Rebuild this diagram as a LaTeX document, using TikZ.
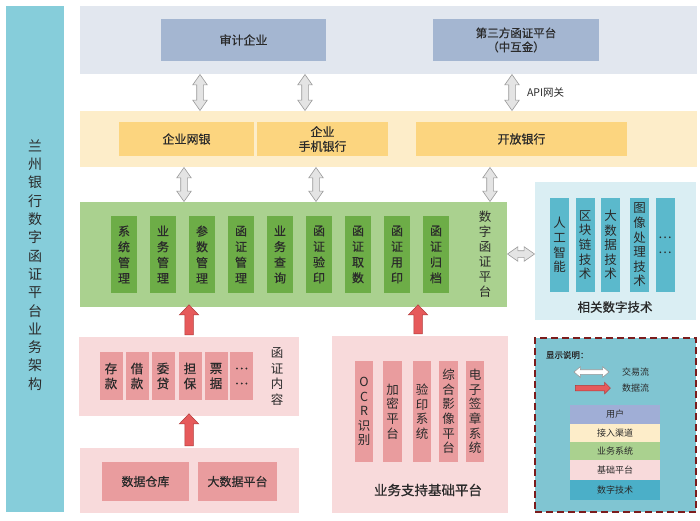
\documentclass[tikz,border=0pt]{standalone}
\usepackage{fontspec}
\setmainfont{Noto Sans CJK SC}
\newfontfamily\semibold{Noto Sans CJK SC}[FakeBold=0.6]
\usetikzlibrary{shapes.arrows,calc}
\definecolor{leftbar}{HTML}{86CDDA}
\definecolor{userbg}{HTML}{E2E7EF}
\definecolor{userbox}{HTML}{A4B6D1}
\definecolor{chanbg}{HTML}{FDEDC9}
\definecolor{chanbox}{HTML}{FCD57F}
\definecolor{bizbg}{HTML}{AAD18F}
\definecolor{bizbox}{HTML}{6DAD47}
\definecolor{techbg}{HTML}{DAEEF3}
\definecolor{techbox}{HTML}{5BB9CC}
\definecolor{basebg}{HTML}{F8DADB}
\definecolor{basebox}{HTML}{E99C9E}
\definecolor{legbg}{HTML}{80C5D2}
\definecolor{legborder}{HTML}{7B1C1C}
\definecolor{leguser}{HTML}{A0AED6}
\definecolor{legtech}{HTML}{4BAFC8}
\definecolor{txt}{HTML}{2A2A2A}
\definecolor{redarrow}{HTML}{E65A5B}
\definecolor{redborder}{HTML}{B03A3A}
\definecolor{grayfill}{HTML}{E4E4E4}
\definecolor{grayborder}{HTML}{9A9A9A}
\begin{document}
\begin{tikzpicture}[x=1pt,y=-1pt,
  box/.style={rectangle,inner sep=0pt,outer sep=0pt,draw=none,text=txt,align=center},
  bandtext/.style={box,font=\semibold\fontsize{12}{14.5}\selectfont},
  vbiz/.style={box,fill=bizbox,minimum width=26pt,minimum height=77pt,font=\semibold\fontsize{12}{15.7}\selectfont},
  vtech/.style={box,fill=techbox,minimum width=19pt,minimum height=94pt,font=\fontsize{12.5}{14.6}\selectfont},
  vcont/.style={box,fill=basebox,minimum width=23pt,minimum height=48pt,font=\semibold\fontsize{12.5}{15}\selectfont},
  vsup/.style={box,fill=basebox,minimum width=18.5pt,minimum height=101pt,font=\fontsize{12.5}{14.6}\selectfont},
  lbl/.style={box,font=\fontsize{12.5}{15.7}\selectfont},
  dblarrow/.style={shape=double arrow,draw=grayborder,fill=grayfill,line width=0.6pt,inner sep=3pt,
     double arrow head extend=4pt,double arrow tip angle=70,minimum width=14pt,sloped,allow upside down},
  redarr/.style={shape=single arrow,draw=redborder,fill=redarrow,line width=0.5pt,inner sep=4pt,
     single arrow head extend=5.5pt,single arrow tip angle=88,minimum width=19pt,sloped,allow upside down},
  legrow/.style={box,minimum width=90pt,font=\fontsize{9}{11}\selectfont}]
\useasboundingbox (0,0) rectangle (700,520);
% left title bar
\node[box,fill=leftbar,minimum width=58pt,minimum height=506pt] (title) at (35,259) {};
\node[box,font=\fontsize{14}{18.3}\selectfont] (titletext) at (35,265)
 {兰\\州\\银\\行\\数\\字\\函\\证\\平\\台\\业\\务\\架\\构};
% user layer
\node[box,fill=userbg,minimum width=617pt,minimum height=68pt] (userband) at (388.5,40) {};
\node[bandtext,fill=userbox,minimum width=165pt,minimum height=42pt] (audit) at (243.5,40) {审计企业};
\node[bandtext,fill=userbox,minimum width=166pt,minimum height=42pt,font=\semibold\fontsize{11.5}{14}\selectfont] (third) at (516,40) {第三方函证平台\\（中互金）};
% channel layer
\node[box,fill=chanbg,minimum width=617pt,minimum height=56pt] (chanband) at (388.5,139) {};
\node[bandtext,fill=chanbox,minimum width=135pt,minimum height=34pt] (ebank) at (186.5,139) {企业网银};
\node[bandtext,fill=chanbox,minimum width=131pt,minimum height=34pt] (mbank) at (322.5,139) {企业\\手机银行};
\node[bandtext,fill=chanbox,minimum width=211pt,minimum height=34pt] (obank) at (521.5,139) {开放银行};
% business layer
\node[box,fill=bizbg,minimum width=427pt,minimum height=105pt] (bizband) at (293.5,254.5) {};
\node[vbiz] (b1) at (124,254.5) {系\\统\\管\\理};
\node[vbiz] (b2) at (163,254.5) {业\\务\\管\\理};
\node[vbiz] (b3) at (202,254.5) {参\\数\\管\\理};
\node[vbiz] (b4) at (241,254.5) {函\\证\\管\\理};
\node[vbiz] (b5) at (280,254.5) {业\\务\\查\\询};
\node[vbiz] (b6) at (319,254.5) {函\\证\\验\\印};
\node[vbiz] (b7) at (358,254.5) {函\\证\\取\\数};
\node[vbiz] (b8) at (397,254.5) {函\\证\\用\\印};
\node[vbiz] (b9) at (436,254.5) {函\\证\\归\\档};
\node[lbl,font=\fontsize{12.5}{15}\selectfont] (bizlabel) at (485,254) {数\\字\\函\\证\\平\\台};
% tech layer
\node[box,fill=techbg,minimum width=161pt,minimum height=138pt] (techband) at (615.5,251) {};
\node[vtech] (t1) at (559.5,245) {人\\工\\智\\能};
\node[vtech] (t2) at (585,245) {区\\块\\链\\技\\术};
\node[vtech] (t3) at (610.5,245) {大\\数\\据\\技\\术};
\node[vtech] (t4) at (639.5,245) {图\\像\\处\\理\\技\\术};
\node[vtech] (t5) at (665,245) {…\\…};
\node[lbl,font=\semibold\fontsize{12.5}{15}\selectfont] (techlabel) at (615,307) {相关数字技术};
% content layer
\node[box,fill=basebg,minimum width=220pt,minimum height=79pt] (contband) at (189,376.5) {};
\node[vcont] (c1) at (111,376) {存\\款};
\node[vcont] (c2) at (137,376) {借\\款};
\node[vcont] (c3) at (163,376) {委\\贷};
\node[vcont] (c4) at (190,376) {担\\保};
\node[vcont] (c5) at (216,376) {票\\据};
\node[vcont] (c6) at (241.5,376) {…\\…};
\node[lbl] (contlabel) at (277,376.5) {函\\证\\内\\容};
% data layer
\node[box,fill=basebg,minimum width=219pt,minimum height=65pt] (databand) at (189.5,480.5) {};
\node[bandtext,fill=basebox,minimum width=87pt,minimum height=39pt] (dw) at (145.5,481.5) {数据仓库};
\node[bandtext,fill=basebox,minimum width=79pt,minimum height=39pt] (bigdata) at (237.5,481.5) {大数据平台};
% support layer
\node[box,fill=basebg,minimum width=176pt,minimum height=177pt] (supband) at (420,424.5) {};
\node[vsup] (s1) at (364,411.5) {O\\C\\R\\识\\别};
\node[vsup] (s2) at (392.5,411.5) {加\\密\\平\\台};
\node[vsup] (s3) at (422,411.5) {验\\印\\系\\统};
\node[vsup] (s4) at (448.5,411.5) {综\\合\\影\\像\\平\\台};
\node[vsup] (s5) at (475,411.5) {电\\子\\签\\章\\系\\统};
\node[lbl,font=\semibold\fontsize{13.5}{15}\selectfont] (suplabel) at (428,490) {业务支持基础平台};
% gray transaction arrows
\coordinate (x1) at (200,0);
\coordinate (x2) at (305,0);
\coordinate (x3) at (512,0);
\coordinate (x4) at (184,0);
\coordinate (x5) at (316,0);
\coordinate (x6) at (490,0);
\path (x1|-userband.south) -- (x1|-chanband.north) node[midway,dblarrow,minimum height=36pt] (a1) {};
\path (x2|-userband.south) -- (x2|-chanband.north) node[midway,dblarrow,minimum height=36pt] (a2) {};
\path (x3|-userband.south) -- (x3|-chanband.north) node[midway,dblarrow,minimum height=36pt] (a3) {};
\node[box,anchor=west,font=\fontsize{10.5}{12}\selectfont] (api) at (527,93) {API网关};
\path (x4|-chanband.south) -- (x4|-bizband.north) node[midway,dblarrow,minimum height=34pt] (a4) {};
\path (x5|-chanband.south) -- (x5|-bizband.north) node[midway,dblarrow,minimum height=34pt] (a5) {};
\path (x6|-chanband.south) -- (x6|-bizband.north) node[midway,dblarrow,minimum height=34pt] (a6) {};
\coordinate (y1) at (0,254);
\path (bizband.east|-y1) -- (techband.west|-y1) node[midway,dblarrow,minimum height=27pt] (a7) {};
% red data arrows
\coordinate (x7) at (189,0);
\coordinate (x8) at (418,0);
\path (x7|-contband.north) -- (x7|-bizband.south) node[midway,redarr,minimum height=30pt] (r1) {};
\path (x8|-supband.north) -- (x8|-bizband.south) node[midway,redarr,minimum height=29pt] (r2) {};
\path (x7|-databand.north) -- (x7|-contband.south) node[midway,redarr,minimum height=32pt] (r3) {};
% legend
\node[box,fill=legbg,draw=legborder,line width=2pt,dash pattern=on 7pt off 4pt,minimum width=161pt,minimum height=174pt] (legend) at (615.5,425) {};
\node[box,anchor=west,font=\semibold\fontsize{8.5}{10}\selectfont] (legtitle) at (546,355) {显示说明：};
\node[shape=double arrow,draw=grayborder,fill=white,line width=0.6pt,inner sep=2pt,double arrow head extend=3pt,double arrow tip angle=80,minimum width=10pt,minimum height=35pt] (legtx) at (591.5,372) {};
\node[box,anchor=west,font=\fontsize{9}{11}\selectfont] (legtxl) at (622,372) {交易流};
\node[shape=single arrow,draw=redborder,fill=redarrow,line width=0.5pt,inner sep=2.5pt,single arrow head extend=3pt,single arrow tip angle=90,minimum width=11pt,minimum height=35pt] (legdt) at (591.5,388) {};
\node[box,anchor=west,font=\fontsize{9}{11}\selectfont] (legdtl) at (622,388) {数据流};
\node[legrow,fill=leguser,minimum height=19pt] (lg1) at (615,414.5) {用户};
\node[legrow,fill=chanbg,minimum height=18pt] (lg2) at (615,433) {接入渠道};
\node[legrow,fill=bizbg,minimum height=18pt] (lg3) at (615,451) {业务系统};
\node[legrow,fill=basebg,minimum height=20pt] (lg4) at (615,470) {基础平台};
\node[legrow,fill=legtech,minimum height=20pt] (lg5) at (615,490) {数字技术};
\end{tikzpicture}
\end{document}
